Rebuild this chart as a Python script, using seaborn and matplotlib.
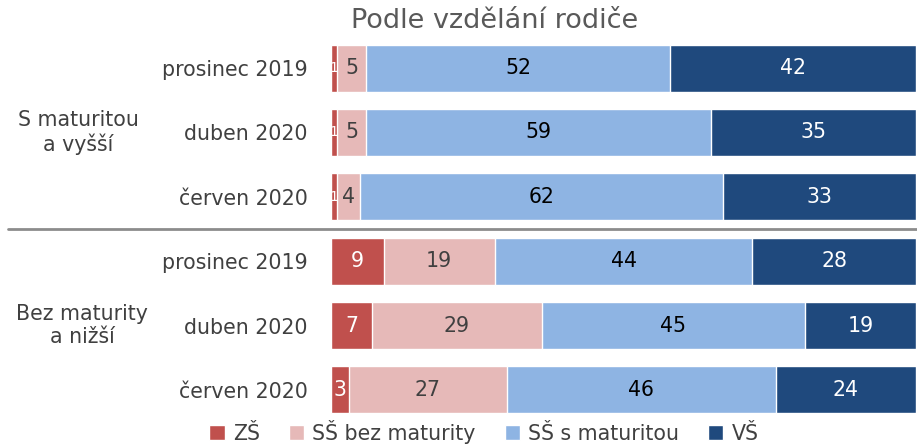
import matplotlib
matplotlib.use("Agg")
import matplotlib.pyplot as plt
from matplotlib.lines import Line2D
import seaborn as sns
import pandas as pd
import numpy as np

sns.set_theme(style="white")
plt.rcParams['font.family'] = ['DejaVu Sans']

title = "Podle vzdělání rodiče"
groups = ["S maturitou\na vyšší", "Bez maturity\na nižší"]
periods = ["prosinec 2019", "duben 2020", "červen 2020",
           "prosinec 2019", "duben 2020", "červen 2020"]
series = ["ZŠ", "SŠ bez maturity", "SŠ s maturitou", "VŠ"]
zs = [1, 1, 1, 9, 7, 3]
ss_bez = [5, 5, 4, 19, 29, 27]
ss_s = [52, 59, 62, 44, 45, 46]
vs = [42, 35, 33, 28, 19, 24]

colors = ["#C0504D", "#E6B9B8", "#8EB4E3", "#1F497D"]
text_colors = ["white", "#404040", "black", "white"]

values = np.array([zs, ss_bez, ss_s, vs])
cum = values.cumsum(axis=0)
rows = [f"r{i}" for i in range(len(periods))]

fig = plt.figure(figsize=(9.17, 4.46), dpi=100)
ax = fig.add_axes([331/917, 0.0534, 585/917, 0.9197 - 0.0534])

for k in range(len(series) - 1, -1, -1):
    df = pd.DataFrame({"row": rows, "val": cum[k]})
    sns.barplot(data=df, x="val", y="row", order=rows, orient="h",
                color=colors[k], saturation=1, width=0.73, ax=ax,
                label=series[k])

fs = 14.8
for k in range(len(series)):
    for i in range(len(rows)):
        v = values[k][i]
        ax.text(cum[k][i] - v / 2, i, str(v), ha="center", va="center",
                color=text_colors[k], fontsize=fs if v > 1 else 10)

ax.set_xlim(0, 100)
ax.set_xlabel("")
ax.set_ylabel("")
ax.set_xticks([])
ax.set_yticks(range(len(rows)))
ax.set_yticklabels(periods, fontsize=fs, color="#404040")
ax.tick_params(axis="y", length=0, pad=17)
for s in ax.spines.values():
    s.set_visible(False)

fig.text(495/917, 1 - 21/446, title, ha="center", va="center",
         fontsize=19.5, color="#595959")

trans = matplotlib.transforms.blended_transform_factory(fig.transFigure, ax.transData)
ax.text(78/917, 1, groups[0], transform=trans, ha="center", va="center",
        fontsize=fs, color="#404040", linespacing=1.2)
ax.text(82/917, 4, groups[1], transform=trans, ha="center", va="center",
        fontsize=fs, color="#404040", linespacing=1.2)

fig.add_artist(Line2D([8/917, 1.0], [1 - 229/446, 1 - 229/446],
                      color="#8C8C8C", lw=2))

handles, labels = ax.get_legend_handles_labels()
order = [labels.index(s) for s in series]
leg = fig.legend([handles[j] for j in order], [labels[j] for j in order],
                 loc="center", bbox_to_anchor=(484/917, 1 - 432/446), ncol=4,
                 frameon=False, fontsize=fs, handlelength=0.75, handleheight=0.75,
                 columnspacing=1.4, handletextpad=0.4, borderpad=0.1)
for t in leg.get_texts():
    t.set_color("#404040")
if ax.get_legend():
    ax.get_legend().remove()

fig.savefig("out.png", dpi=100)
